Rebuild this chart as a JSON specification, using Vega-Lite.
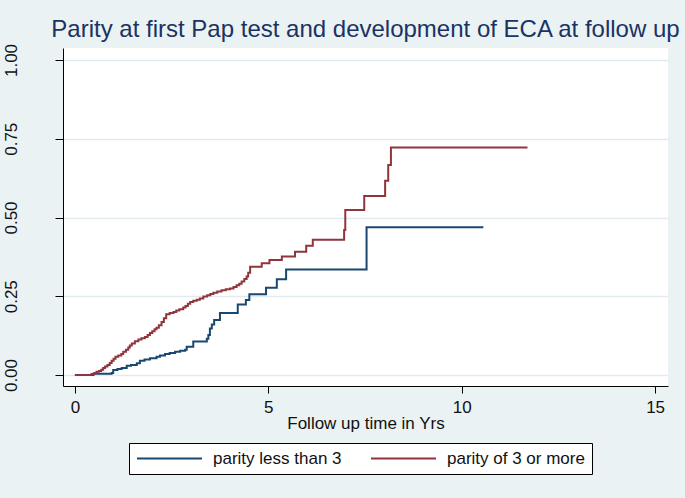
{
  "$schema": "https://vega.github.io/schema/vega-lite/v6.json",
  "autosize": "none",
  "width": 605,
  "height": 338,
  "padding": {"left": 63, "top": 48, "right": 17, "bottom": 112},
  "background": "#eaf2f3",
  "title": {
    "text": "Parity at first Pap test and development of ECA at follow up",
    "font": "Liberation Sans",
    "fontSize": 24,
    "fontWeight": "normal",
    "color": "#1a3363",
    "anchor": "middle",
    "baseline": "alphabetic",
    "offset": 9,
    "dy": 27
  },
  "config": {
    "view": {"fill": "white", "stroke": null},
    "font": "Liberation Sans"
  },
  "data": {
    "values": [
      {"group": "parity less than 3", "t": 0, "v": 0},
      {"group": "parity less than 3", "t": 0.48, "v": 0.004},
      {"group": "parity less than 3", "t": 0.95, "v": 0.006},
      {"group": "parity less than 3", "t": 0.99, "v": 0.016},
      {"group": "parity less than 3", "t": 1.1, "v": 0.019},
      {"group": "parity less than 3", "t": 1.21, "v": 0.022},
      {"group": "parity less than 3", "t": 1.34, "v": 0.029},
      {"group": "parity less than 3", "t": 1.45, "v": 0.032},
      {"group": "parity less than 3", "t": 1.6, "v": 0.037},
      {"group": "parity less than 3", "t": 1.68, "v": 0.045},
      {"group": "parity less than 3", "t": 1.8, "v": 0.049},
      {"group": "parity less than 3", "t": 1.94, "v": 0.053},
      {"group": "parity less than 3", "t": 2.11, "v": 0.058},
      {"group": "parity less than 3", "t": 2.2, "v": 0.062},
      {"group": "parity less than 3", "t": 2.33, "v": 0.067},
      {"group": "parity less than 3", "t": 2.45, "v": 0.07},
      {"group": "parity less than 3", "t": 2.59, "v": 0.074},
      {"group": "parity less than 3", "t": 2.72, "v": 0.077},
      {"group": "parity less than 3", "t": 2.85, "v": 0.08},
      {"group": "parity less than 3", "t": 2.89, "v": 0.09},
      {"group": "parity less than 3", "t": 3.06, "v": 0.106},
      {"group": "parity less than 3", "t": 3.41, "v": 0.115},
      {"group": "parity less than 3", "t": 3.45, "v": 0.127},
      {"group": "parity less than 3", "t": 3.49, "v": 0.148},
      {"group": "parity less than 3", "t": 3.54, "v": 0.16},
      {"group": "parity less than 3", "t": 3.6, "v": 0.175},
      {"group": "parity less than 3", "t": 3.75, "v": 0.197},
      {"group": "parity less than 3", "t": 4.21, "v": 0.224},
      {"group": "parity less than 3", "t": 4.42, "v": 0.238},
      {"group": "parity less than 3", "t": 4.51, "v": 0.256},
      {"group": "parity less than 3", "t": 4.94, "v": 0.277},
      {"group": "parity less than 3", "t": 5.22, "v": 0.304},
      {"group": "parity less than 3", "t": 5.46, "v": 0.335},
      {"group": "parity less than 3", "t": 7.54, "v": 0.469},
      {"group": "parity less than 3", "t": 10.56, "v": 0.469},
      {"group": "parity of 3 or more", "t": 0, "v": 0},
      {"group": "parity of 3 or more", "t": 0.43, "v": 0.003},
      {"group": "parity of 3 or more", "t": 0.5, "v": 0.006},
      {"group": "parity of 3 or more", "t": 0.56, "v": 0.01},
      {"group": "parity of 3 or more", "t": 0.62, "v": 0.013},
      {"group": "parity of 3 or more", "t": 0.68, "v": 0.017},
      {"group": "parity of 3 or more", "t": 0.73, "v": 0.022},
      {"group": "parity of 3 or more", "t": 0.78, "v": 0.027},
      {"group": "parity of 3 or more", "t": 0.84, "v": 0.032},
      {"group": "parity of 3 or more", "t": 0.9, "v": 0.038},
      {"group": "parity of 3 or more", "t": 0.95, "v": 0.045},
      {"group": "parity of 3 or more", "t": 1.0, "v": 0.052},
      {"group": "parity of 3 or more", "t": 1.05, "v": 0.058},
      {"group": "parity of 3 or more", "t": 1.12, "v": 0.062},
      {"group": "parity of 3 or more", "t": 1.2, "v": 0.067},
      {"group": "parity of 3 or more", "t": 1.25, "v": 0.074},
      {"group": "parity of 3 or more", "t": 1.32, "v": 0.08},
      {"group": "parity of 3 or more", "t": 1.38, "v": 0.087},
      {"group": "parity of 3 or more", "t": 1.42, "v": 0.094},
      {"group": "parity of 3 or more", "t": 1.47, "v": 0.1},
      {"group": "parity of 3 or more", "t": 1.55, "v": 0.107},
      {"group": "parity of 3 or more", "t": 1.64, "v": 0.113},
      {"group": "parity of 3 or more", "t": 1.72, "v": 0.117},
      {"group": "parity of 3 or more", "t": 1.81, "v": 0.121},
      {"group": "parity of 3 or more", "t": 1.88, "v": 0.127},
      {"group": "parity of 3 or more", "t": 1.94, "v": 0.133},
      {"group": "parity of 3 or more", "t": 2.0, "v": 0.139},
      {"group": "parity of 3 or more", "t": 2.06, "v": 0.145},
      {"group": "parity of 3 or more", "t": 2.11, "v": 0.15},
      {"group": "parity of 3 or more", "t": 2.17, "v": 0.158},
      {"group": "parity of 3 or more", "t": 2.24, "v": 0.168},
      {"group": "parity of 3 or more", "t": 2.3, "v": 0.18},
      {"group": "parity of 3 or more", "t": 2.36, "v": 0.193},
      {"group": "parity of 3 or more", "t": 2.45, "v": 0.197},
      {"group": "parity of 3 or more", "t": 2.55, "v": 0.2},
      {"group": "parity of 3 or more", "t": 2.62, "v": 0.205},
      {"group": "parity of 3 or more", "t": 2.7, "v": 0.209},
      {"group": "parity of 3 or more", "t": 2.8, "v": 0.214},
      {"group": "parity of 3 or more", "t": 2.86, "v": 0.219},
      {"group": "parity of 3 or more", "t": 2.92, "v": 0.226},
      {"group": "parity of 3 or more", "t": 2.98, "v": 0.232},
      {"group": "parity of 3 or more", "t": 3.06, "v": 0.236},
      {"group": "parity of 3 or more", "t": 3.15, "v": 0.239},
      {"group": "parity of 3 or more", "t": 3.23, "v": 0.243},
      {"group": "parity of 3 or more", "t": 3.32, "v": 0.249},
      {"group": "parity of 3 or more", "t": 3.42, "v": 0.253},
      {"group": "parity of 3 or more", "t": 3.5, "v": 0.257},
      {"group": "parity of 3 or more", "t": 3.58, "v": 0.261},
      {"group": "parity of 3 or more", "t": 3.68, "v": 0.265},
      {"group": "parity of 3 or more", "t": 3.79, "v": 0.269},
      {"group": "parity of 3 or more", "t": 3.9, "v": 0.272},
      {"group": "parity of 3 or more", "t": 4.01, "v": 0.275},
      {"group": "parity of 3 or more", "t": 4.1, "v": 0.279},
      {"group": "parity of 3 or more", "t": 4.18, "v": 0.285},
      {"group": "parity of 3 or more", "t": 4.25, "v": 0.29},
      {"group": "parity of 3 or more", "t": 4.31, "v": 0.297},
      {"group": "parity of 3 or more", "t": 4.38, "v": 0.305},
      {"group": "parity of 3 or more", "t": 4.44, "v": 0.313},
      {"group": "parity of 3 or more", "t": 4.48, "v": 0.325},
      {"group": "parity of 3 or more", "t": 4.53, "v": 0.344},
      {"group": "parity of 3 or more", "t": 4.83, "v": 0.355},
      {"group": "parity of 3 or more", "t": 5.03, "v": 0.365},
      {"group": "parity of 3 or more", "t": 5.35, "v": 0.376},
      {"group": "parity of 3 or more", "t": 5.69, "v": 0.391},
      {"group": "parity of 3 or more", "t": 5.98, "v": 0.41},
      {"group": "parity of 3 or more", "t": 6.15, "v": 0.429},
      {"group": "parity of 3 or more", "t": 6.96, "v": 0.46},
      {"group": "parity of 3 or more", "t": 6.99, "v": 0.524},
      {"group": "parity of 3 or more", "t": 7.48, "v": 0.568},
      {"group": "parity of 3 or more", "t": 8.02, "v": 0.617},
      {"group": "parity of 3 or more", "t": 8.1, "v": 0.667},
      {"group": "parity of 3 or more", "t": 8.17, "v": 0.722},
      {"group": "parity of 3 or more", "t": 11.7, "v": 0.722}
    ]
  },
  "mark": {"type": "line", "interpolate": "step-after", "strokeWidth": 2},
  "encoding": {
    "x": {
      "field": "t",
      "type": "quantitative",
      "scale": {"domain": [-0.3077, 15.333], "nice": false, "zero": false},
      "axis": {
        "values": [0, 5, 10, 15],
        "format": "d",
        "title": "Follow up time in Yrs",
        "titleFont": "Liberation Sans",
        "titleFontSize": 17,
        "titleFontWeight": "normal",
        "titleColor": "#111111",
        "titleBaseline": "alphabetic",
        "titleY": 42,
        "labelFont": "Liberation Sans",
        "labelFontSize": 17,
        "labelColor": "#111111",
        "labelPadding": 6,
        "labelBaseline": "top",
        "tickSize": 7,
        "tickColor": "#000000",
        "domainColor": "#000000",
        "grid": false,
        "labelFlush": false,
        "labelOverlap": false
      }
    },
    "y": {
      "field": "v",
      "type": "quantitative",
      "scale": {"domain": [-0.0349, 1.0381], "nice": false, "zero": false},
      "axis": {
        "values": [0, 0.25, 0.5, 0.75, 1],
        "format": ".2f",
        "title": null,
        "labelFont": "Liberation Sans",
        "labelFontSize": 17,
        "labelColor": "#111111",
        "labelAngle": 270,
        "labelAlign": "center",
        "labelBaseline": "alphabetic",
        "labelPadding": 39,
        "tickSize": 8,
        "tickColor": "#000000",
        "domainColor": "#000000",
        "grid": true,
        "gridColor": "#e1ebef",
        "gridWidth": 1.5,
        "labelFlush": false,
        "labelOverlap": false
      }
    },
    "color": {
      "field": "group",
      "type": "nominal",
      "scale": {
        "domain": ["parity less than 3", "parity of 3 or more"],
        "range": ["#1a476f", "#90353b"]
      },
      "legend": {
        "title": null,
        "orient": "none",
        "legendX": 66,
        "legendY": 395,
        "direction": "horizontal",
        "columns": 2,
        "symbolType": "stroke",
        "symbolSize": 4225,
        "symbolStrokeWidth": 2,
        "clipHeight": 17,
        "labelFont": "Liberation Sans",
        "labelFontSize": 17,
        "labelColor": "#111111",
        "labelOffset": 10,
        "columnPadding": 28,
        "padding": 7,
        "fillColor": "white",
        "strokeColor": "#000000"
      }
    }
  }
}
